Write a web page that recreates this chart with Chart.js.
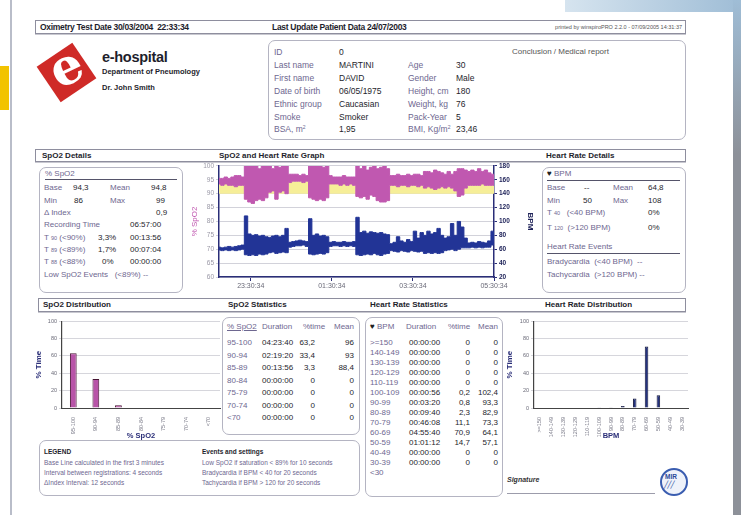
<!DOCTYPE html>
<html>
<head>
<meta charset="utf-8">
<script src="https://cdn.jsdelivr.net/npm/chart.js@4.4.1/dist/chart.umd.min.js"></script>
<style>
  body { margin: 0; width: 741px; height: 515px; overflow: hidden; background: #fff; position: relative;
         font-family: "Liberation Sans", Arial, sans-serif; }
  .a { position: absolute; white-space: nowrap; }
  .a sup { font-size: 5px; line-height: 0; vertical-align: 3px; }
  .box { position: absolute; border: 1px solid #b4b4c2; border-radius: 7px; box-sizing: border-box; }
  .bar { position: absolute; border: 1px solid #8e8e9e; box-shadow: 0 1px 0 #c8c8d0; background: #fff; box-sizing: border-box; }
  .rule { position: absolute; height: 1px; background: #55546a; }
  canvas { position: absolute; }
</style>
</head>
<body>
<!-- page decorations -->
<div style="position:absolute;left:0;top:66px;width:9px;height:44px;background:#f2c300"></div>
<div style="position:absolute;left:10px;top:0;width:2px;height:515px;background:#b9bdc9"></div>
<div style="position:absolute;left:565px;top:0;width:176px;height:12px;background:linear-gradient(90deg,#d6e4ef,#9fbdd6)"></div>
<div style="position:absolute;left:733px;top:0;width:8px;height:515px;background:linear-gradient(180deg,#9fbdd6,#8d9199 30%,#8d9199)"></div>

<div class="bar" style="left:35px;top:20px;width:651px;height:14px"></div>
<div class="box" style="left:268px;top:40px;width:418px;height:100px"></div>
<div class="bar" style="left:35px;top:149px;width:651px;height:13px"></div>
<div class="box" style="left:39px;top:167px;width:144px;height:126px"></div>
<div class="box" style="left:542px;top:167px;width:144px;height:126px"></div>
<div class="bar" style="left:38px;top:298px;width:648px;height:14px"></div>
<div class="box" style="left:222px;top:317px;width:138px;height:118px"></div>
<div class="box" style="left:365px;top:317px;width:138px;height:180px"></div>
<div class="box" style="left:39px;top:440px;width:321px;height:56px"></div>

<!-- logo -->
<div style="position:absolute;left:45px;top:51px;width:43px;height:43px;background:#cf2a27;transform:rotate(-34deg)"></div>
<div class="a" style="left:50px;top:42px;font:bold 50px 'DejaVu Serif',serif;color:#fff;transform:rotate(-25deg);line-height:50px">e</div>

<!-- MIR logo -->
<div style="position:absolute;left:660px;top:468px;width:24px;height:24px;border:2px solid #3a5db0;border-radius:50%;background:#eef2fa"></div>
<div class="a" style="left:665px;top:473px;font:bold 6.5px 'Liberation Sans';color:#2b4a9a">MIR</div>
<div class="a" style="left:664px;top:481px;font:bold 7px 'DejaVu Sans';color:#2b4a9a;letter-spacing:-1px">&#x2571;&#x2571;&#x2571;</div>

<div class="rule" style="left:507px;top:493px;width:148px;background:#9c9cab"></div>
<div class="rule" style="left:45px;top:179px;width:132px"></div>
<div class="rule" style="left:547px;top:180px;width:133px"></div>
<div class="rule" style="left:547px;top:253px;width:133px"></div>

<canvas id="trendChart" style="left:190px;top:160px" width="345" height="135"></canvas>
<canvas id="spo2Dist" style="left:34px;top:316px" width="188" height="124"></canvas>
<canvas id="hrDist" style="left:505px;top:316px" width="185" height="124"></canvas>

<script>
// trend graph: minutes since start of recording (22:33:34), envelope of each 5 minute slot
const timeMin = [10,15,20,25,30,35,40,45,50,55,
                 60,65,70,75,80,85,90,95,100,105,
                 110,115,120,125,130,135,140,145,150,155,
                 160,165,170,175,180,185,190,195,200,205,
                 210,215,220,225,230,235,240,245,250,255,
                 260,265,270,275,280,285,290,295,300,305,
                 310,315,320,325,330,335,340,345,350,355,
                 360,365,370,375,380,385,390,395,400,405,
                 410,415,417];
const spo2Low = [93.5,93,93.5,93,93,92.5,93,93,88,87,
                 86.5,87.5,88,87.5,88.5,90.5,91,88,90.5,91,
                 90,94,94.5,94.5,94.5,94,94.5,88.5,88,87.5,
                 88,87.5,88.5,93.5,93.5,93.5,93,93.5,93,93.5,
                 93,89,88.5,89,88,89.5,89,87.5,87,87,
                 87.5,93,93,92.5,93,93,92.5,93,93,92.5,
                 93,92,92.5,92,91.5,92,92.5,92,92.5,92,
                 91,89,89.5,92,93,93,93,93,93.5,93,
                 93,93,93];
const spo2High = [95.5,95.5,96,95.5,96,96.5,96.5,96,100,100,
                  100,100,99,100,100,100,99,100,99.5,100,
                  100,97,97,97,96.5,97,96.5,100,100,100,
                  100,99.5,100,96.5,96,96,96,96.5,96,96,
                  96,100,99,100,98.5,99.5,100,99,99.5,100,
                  99,96.5,96.5,97,96.5,96.5,97,96.5,97,97,
                  96.5,98,98,97.5,98.5,98,97.5,97,98,97,
                  98,99,99,98.5,98,98.5,98,99,98,98.5,
                  97.5,97,97];
const hrLow = [59,58,59,58,59,58,59,60,52,51,
               52,51,53,52,53,55,56,54,55,56,
               55,63,64,65,65,66,64,53,52,53,
               54,53,55,64,65,65,64,65,64,65,
               64,52,51,52,53,52,54,52,51,53,
               54,58,57,56,58,57,56,58,57,56,
               57,54,55,54,55,54,55,58,59,60,
               58,60,62,62,62,63,62,63,62,63,
               63,66,70];
const hrHigh = [63,62,63,64,63,64,65,66,108,82,
                80,81,79,80,78,77,79,80,78,80,
                90,70,71,72,73,72,71,104,80,82,
                79,80,78,70,71,70,70,71,70,70,
                71,106,84,86,83,85,84,83,84,82,
                81,68,70,78,72,70,74,71,86,76,
                84,80,86,82,84,90,80,76,78,97,
                80,100,92,76,69,70,69,71,70,69,
                72,86,86];
const timeTicks = [57, 177, 297, 417];
const timeLabels = ['23:30:34', '01:30:34', '03:30:34', '05:30:34'];

// statistics tables
const spo2Ranges = ['95-100','90-94','85-89','80-84','75-79','70-74','<70'];
const spo2Durations = ['04:23:40','02:19:20','00:13:56','00:00:00','00:00:00','00:00:00','00:00:00'];
const spo2Percent = [63.2, 33.4, 3.3, 0, 0, 0, 0];
const spo2Means = ['96','93','88,4','0','0','0','0'];

const hrRanges = ['>=150','140-149','130-139','120-129','110-119','100-109','90-99','80-89','70-79','60-69','50-59','40-49','30-39','<30'];
const hrDurations = ['00:00:00','00:00:00','00:00:00','00:00:00','00:00:00','00:00:56','00:03:20','00:09:40','00:46:08','04:55:40','01:01:12','00:00:00','00:00:00',''];
const hrPercent = [0, 0, 0, 0, 0, 0.2, 0.8, 2.3, 11.1, 70.9, 14.7, 0, 0, null];
const hrMeans = ['0','0','0','0','0','102,4','93,3','82,9','73,3','64,1','57,1','0','0',''];

const LBL = '#6e6790';
const VAL = '#1e1e2c';
const MAGENTA = 'rgb(192, 88, 176)';
const YELLOW = 'rgb(246, 238, 152)';
const NAVY = 'rgb(34, 52, 150)';

/*********************************************/

function put(s, x, y, size, color, extra) {
  const d = document.createElement('div');
  d.className = 'a';
  d.innerHTML = s;
  d.style.left = x + 'px';
  d.style.top = (y - size / 2) + 'px';
  d.style.fontSize = size + 'px';
  d.style.lineHeight = size + 'px';
  d.style.color = color || VAL;
  if (extra) d.style.cssText += extra;
  document.body.appendChild(d);
  return d;
}
function putR(s, x, y, size, color, extra) {
  const d = put(s, x, y, size, color, extra);
  d.style.transform = 'translateX(-100%)';
  return d;
}
const comma = v => String(v).replace('.', ',');

// header strip
put('Oximetry Test Date 30/03/2004&nbsp; 22:33:34', 40, 27, 8.5, VAL, 'font-weight:bold;letter-spacing:-0.3px');
put('Last Update Patient Data 24/07/2003', 272, 27, 8.5, VAL, 'font-weight:bold;letter-spacing:-0.3px');
putR('printed by winspiroPRO 2.2.0 - 07/09/2005 14:31:37', 682, 27.5, 5.5, '#555');

put('e-hospital', 102, 57, 14.5, VAL, 'font-weight:bold;letter-spacing:-0.3px');
put('Department of Pneumology', 102, 72, 7.5, VAL, 'font-weight:bold');
put('Dr. John Smith', 102, 88, 7.5, VAL, 'font-weight:bold');

// patient box
const rowsY = [52, 65, 78, 91, 104, 117, 129];
const pLabels = ['ID','Last name','First name','Date of birth','Ethnic group','Smoke','BSA, m<sup>2</sup>'];
const pValues = ['0','MARTINI','DAVID','06/05/1975','Caucasian','Smoker','1,95'];
const pLabels2 = ['Age','Gender','Height, cm','Weight, kg','Pack-Year','BMI, Kg/m<sup>2</sup>'];
const pValues2 = ['30','Male','180','76','5','23,46'];
pLabels.forEach((s, i) => { put(s, 274, rowsY[i], 8.5, LBL); put(pValues[i], 339, rowsY[i], 8.5, VAL); });
pLabels2.forEach((s, i) => { put(s, 408, rowsY[i + 1], 8.5, LBL); put(pValues2[i], 456, rowsY[i + 1], 8.5, VAL); });
put('Conclusion / Medical report', 512, 52, 8, '#555');

// section strips
put('SpO2 Details', 42, 155.5, 8, VAL, 'font-weight:bold');
put('SpO2 and Heart Rate Graph', 219, 155.5, 8, VAL, 'font-weight:bold');
put('Heart Rate Details', 546, 155.5, 8, VAL, 'font-weight:bold');
put('SpO2 Distribution', 43, 305, 8, VAL, 'font-weight:bold');
put('SpO2 Statistics', 228, 305, 8, VAL, 'font-weight:bold');
put('Heart Rate Statistics', 370, 305, 8, VAL, 'font-weight:bold');
put('Heart Rate Distribution', 545, 305, 8, VAL, 'font-weight:bold');

// SpO2 details
const sub = t => '<span style="font-size:5.5px">' + t + '</span>';
put('% SpO2', 45, 174, 8, LBL);
put('Base', 44, 188, 8, LBL); put('94,3', 73, 188, 8, VAL); put('Mean', 110, 188, 8, LBL); put('94,8', 151, 188, 8, VAL);
put('Min', 44, 201, 8, LBL); put('86', 74, 201, 8, VAL); put('Max', 110, 201, 8, LBL); put('99', 156, 201, 8, VAL);
put('&Delta; Index', 44, 213, 8, LBL); put('0,9', 156, 213, 8, VAL);
put('Recording Time', 44, 225, 8, LBL); put('06:57:00', 130, 225, 8, VAL);
put('T ' + sub('90') + ' (&lt;90%)', 44, 238, 8, LBL); put('3,3%', 98, 238, 8, VAL); put('00:13:56', 130, 238, 8, VAL);
put('T ' + sub('89') + ' (&lt;89%)', 44, 250, 8, LBL); put('1,7%', 98, 250, 8, VAL); put('00:07:04', 130, 250, 8, VAL);
put('T ' + sub('88') + ' (&lt;88%)', 44, 262, 8, LBL); put('0%', 102, 262, 8, VAL); put('00:00:00', 130, 262, 8, VAL);
put('Low SpO2 Events&nbsp;&nbsp; (&lt;89%) --', 44, 275, 8, LBL);

// heart rate details
put('<span style="color:#222">&#9829;</span> BPM', 547, 174, 8, LBL);
put('Base', 547, 188, 8, LBL); put('--', 584, 188, 8, VAL); put('Mean', 613, 188, 8, LBL); put('64,8', 648, 188, 8, VAL);
put('Min', 547, 201, 8, LBL); put('50', 583, 201, 8, VAL); put('Max', 613, 201, 8, LBL); put('108', 648, 201, 8, VAL);
put('T ' + sub('40') + '&nbsp;&nbsp; (&lt;40 BPM)', 547, 213, 8, LBL); put('0%', 648, 213, 8, VAL);
put('T ' + sub('120') + '&nbsp; (&gt;120 BPM)', 547, 228, 8, LBL); put('0%', 648, 228, 8, VAL);
put('Heart Rate Events', 547, 247, 8, LBL);
put('Bradycardia&nbsp; (&lt;40 BPM)&nbsp; --', 547, 262, 8, LBL);
put('Tachycardia&nbsp; (&gt;120 BPM) --', 547, 275, 8, LBL);

// SpO2 statistics table
put('<u>% SpO2</u>', 227, 327, 8, LBL); put('Duration', 262, 327, 8, LBL); put('%time', 303, 327, 8, LBL); putR('Mean', 354, 327, 8, LBL);
spo2Ranges.forEach((r, i) => {
  const y = 343 + i * 12.5;
  put(r, 227, y, 8, LBL);
  put(spo2Durations[i], 262, y, 8, VAL);
  putR(comma(spo2Percent[i]), 315, y, 8, VAL);
  putR(spo2Means[i], 354, y, 8, VAL);
});

// heart rate statistics table
put('<span style="color:#222">&#9829;</span> BPM', 370, 327, 8, LBL); put('Duration', 406, 327, 8, LBL); put('%time', 448, 327, 8, LBL); putR('Mean', 498, 327, 8, LBL);
hrRanges.forEach((r, i) => {
  const y = 343 + i * 10;
  put(r, 370, y, 8, LBL);
  if (hrDurations[i]) {
    put(hrDurations[i], 409, y, 8, VAL);
    putR(comma(hrPercent[i]), 470, y, 8, VAL);
    putR(hrMeans[i], 498, y, 8, VAL);
  }
});

// legend
put('LEGEND', 44, 452, 6.5, VAL, 'font-weight:bold');
put('Base Line calculated in the first 3 minutes', 44, 463, 6.5, LBL);
put('Interval between registrations: 4 seconds', 44, 473, 6.5, LBL);
put('&Delta;Index Interval: 12 seconds', 44, 483, 6.5, LBL);
put('Events and settings', 202, 452, 6.5, VAL, 'font-weight:bold');
put('Low SpO2 if saturation &lt; 89% for 10 seconds', 202, 463, 6.5, LBL);
put('Bradycardia if BPM &lt; 40 for 20 seconds', 202, 473, 6.5, LBL);
put('Tachycardia if BPM &gt; 120 for 20 seconds', 202, 483, 6.5, LBL);

put('Signature', 507, 479, 7, '#333', 'font-style:italic;font-weight:bold');

/*********************************************/

Chart.defaults.font.family = '"Liberation Sans", Arial, sans-serif';
Chart.defaults.animation = false;

const pts = (xs, ys) => xs.map((x, i) => ({ x: x, y: ys[i] }));

function trendChart() {
  const line = { pointRadius: 0, borderWidth: 1, stepped: 'middle' };
  const data = {
    datasets: [
      { ...line, data: pts(timeMin, hrHigh), borderColor: NAVY, backgroundColor: NAVY, fill: '+1', yAxisID: 'y1', order: 1 },
      { ...line, data: pts(timeMin, hrLow), borderColor: NAVY, backgroundColor: NAVY, fill: false, yAxisID: 'y1', order: 1 },
      { ...line, data: pts(timeMin, spo2High), borderColor: MAGENTA, backgroundColor: MAGENTA, fill: '+1', yAxisID: 'y', order: 2 },
      { ...line, data: pts(timeMin, spo2Low), borderColor: MAGENTA, backgroundColor: MAGENTA, fill: false, yAxisID: 'y', order: 2 },
      // area between the lower SpO2 trace and the 90% line
      { ...line, borderWidth: 0, data: pts(timeMin, spo2Low), borderColor: YELLOW, backgroundColor: YELLOW, fill: { value: 90 }, yAxisID: 'y', order: 3 },
    ]
  };
  const options = {
    responsive: false,
    layout: { padding: { top: 4, bottom: 0, left: 0, right: 0 } },
    plugins: { legend: { display: false }, tooltip: { enabled: false } },
    scales: {
      x: {
        type: 'linear', min: 10, max: 417,
        afterBuildTicks: axis => { axis.ticks = timeTicks.map(v => ({ value: v })); },
        afterFit: axis => { axis.height = 18; },
        ticks: { callback: (v, i) => timeLabels[i], color: '#6a6a78', font: { size: 7 }, maxRotation: 0, padding: 1 },
        grid: { drawOnChartArea: false, tickLength: 4, color: '#2a2e78' },
        border: { color: '#2a2e78', width: 1.5 }
      },
      y: {
        position: 'left', min: 60, max: 100,
        afterFit: axis => { axis.width = 29; },
        ticks: { stepSize: 5, color: '#9a98a6', font: { size: 6.5 }, padding: 2 },
        grid: { color: '#d2d2da', tickLength: 3 },
        border: { color: '#2a2e78', width: 1.5 },
        title: { display: true, text: '% SpO2', color: MAGENTA, font: { size: 8 }, padding: 0 }
      },
      y1: {
        position: 'right', min: 20, max: 180,
        afterFit: axis => { axis.width = 41; },
        ticks: { stepSize: 20, color: '#20245a', font: { size: 6.5, weight: 'bold' }, padding: 2 },
        grid: { drawOnChartArea: false, tickLength: 3, color: '#2a2e78' },
        border: { color: '#2a2e78', width: 1.5 },
        title: { display: true, text: 'BPM', color: '#20245a', font: { size: 8, weight: 'bold' }, padding: 0 }
      }
    }
  };
  new Chart(document.getElementById('trendChart'), { type: 'line', data, options });
}

function distChart(id, labels, values, fill, edge, xTitle, leftWidth) {
  const data = {
    labels: labels,
    datasets: [{
      data: values, backgroundColor: fill, borderColor: edge, borderWidth: 1,
      categoryPercentage: 1, barPercentage: 0.3
    }]
  };
  const options = {
    responsive: false,
    layout: { padding: { top: 4, right: 2 } },
    plugins: { legend: { display: false }, tooltip: { enabled: false } },
    scales: {
      x: {
        afterFit: axis => { axis.height = 32; },
        ticks: { color: '#7a7a88', font: { size: 5.5 }, minRotation: 90, maxRotation: 90, autoSkip: false, padding: 1 },
        grid: { display: false },
        border: { color: '#444', width: 1 },
        title: { display: true, text: xTitle, color: '#2a2e78', font: { size: 7.5, weight: 'bold' }, padding: 0 }
      },
      y: {
        min: 0, max: 100,
        afterFit: axis => { axis.width = leftWidth; },
        ticks: { stepSize: 10, color: '#6a6a78', font: { size: 5.5 }, padding: 2 },
        grid: { color: '#d6d6dc', tickLength: 3 },
        border: { color: '#444', width: 1.2 },
        title: { display: true, text: '% Time', color: '#2a2e78', font: { size: 8, weight: 'bold' }, padding: 0 }
      }
    }
  };
  new Chart(document.getElementById(id), { type: 'bar', data, options });
}

trendChart();
distChart('spo2Dist', spo2Ranges, spo2Percent, 'rgb(184, 84, 168)', 'rgb(70, 20, 50)', '% SpO2', 28);
distChart('hrDist', hrRanges.slice(0, 13), hrPercent.slice(0, 13), 'rgb(36, 50, 128)', 'rgb(20, 24, 60)', 'BPM', 29);
</script>
</body>
</html>
